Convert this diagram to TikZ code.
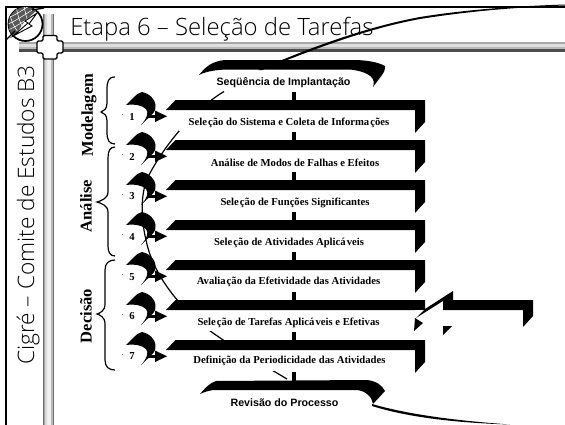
\documentclass[tikz,border=0pt]{standalone}
\usepackage{fontspec}
\setmainfont{Liberation Serif}
\newfontfamily\hsans{Liberation Sans}
\newfontfamily\lsans{Open Sans Light}
\begin{document}
\begin{tikzpicture}[x=0.75pt,y=-0.75pt,
  steptext/.style={font=\bfseries\fontsize{8}{9}\selectfont,inner sep=0pt,anchor=center},
  sanstext/.style={font=\hsans\bfseries\fontsize{8}{9}\selectfont,inner sep=0pt,anchor=center},
  numtext/.style={font=\bfseries\fontsize{8}{9}\selectfont,inner sep=0pt},
  grptext/.style={font=\bfseries\fontsize{12.4}{13}\selectfont,inner sep=0pt,rotate=90},
  titletext/.style={font=\lsans\fontsize{17.9}{20}\selectfont,inner sep=0pt,anchor=base west},
  sidetext/.style={font=\lsans\fontsize{17}{18}\selectfont,rotate=90,inner sep=0pt,anchor=base west},
  brace/.style={draw=black,line width=0.9pt,fill=none},
  longline/.style={draw=black,line width=0.9pt,fill=none}]
\useasboundingbox (0,0) rectangle (565,425);
\fill[white] (0,0) rectangle (565,425);
% frame
\draw[line width=1.5pt] (5.5,425) -- (5.5,6.5) -- (565,6.5);
% bars
\foreach \a/\b/\c in {0/1/gray!85!black,1/2/gray!70,2/4/gray!30,4/8/gray!12,8/10/gray!55,10/11/gray!85!black}{
  \fill[\c] (43+\a,14) rectangle (43+\b,425);
}
\foreach \a/\b/\c in {0/2/gray!70,2/5/gray!25,5/7/gray!55,7/10/black!70}{
  \fill[\c] (19,42+\a) rectangle (565,42+\b);
}
% logo
\node[circle,draw=black,line width=1.3pt,fill=white,minimum size=25.5pt,inner sep=0pt] (logo) at (25.5,24) {};
\begin{scope}
\clip (25.5,24) circle (17);
\fill[gray!70!black] (8,7) -- (40,7) -- (24,22) -- (12,40) -- (8,40) -- cycle;
\foreach \d in {-8,-2,4,10}{\draw[white,line width=0.4pt] (8,20+\d) .. controls (18,16+\d) and (28,8+\d) .. (36,4+\d);}
\foreach \d in {-4,4,12}{\draw[white,line width=0.4pt] (12+\d,6) .. controls (14+\d,16) and (16+\d,26) .. (24+\d,34);}
\end{scope}
\draw[line width=1pt] (32,10) -- (44,8);
\draw[line width=1pt] (6,40) -- (15,31);
\draw[fill=white,line width=0.7pt] (37,13) -- (25,21) -- (28,23) -- (13,36) -- (32,26) -- (29,24) -- cycle;
% plus
\node[inner sep=0pt,minimum size=0pt] (plus) at (50,47) {};
\draw[fill=white,line width=1.1pt,rounded corners=1pt] (43,35.5) -- (57,35.5) -- (57,41) -- (63,41) -- (63,53) -- (57,53) -- (57,59) -- (43,59) -- (43,53) -- (37,53) -- (37,41) -- (43,41) -- cycle;
% title and side text
\node[titletext] (title) at (70,35) {Etapa 6 – Seleção de Tarefas};
\node[sidetext] (side) at (34,365) {Cigré – Comite de Estudos B3};
% swoosh top
\fill (258,70) .. controls (300,52) and (360,28) .. (420,17) .. controls (470,9) and (520,6) .. (565,4.5) -- (565,5.5) .. controls (520,7) and (470,11) .. (420,19) .. controls (360,30) and (300,55) .. (262,70) -- cycle;
% long curve
\draw[longline] (224,91.5) .. controls (190,112) and (162,150) .. (149,175) .. controls (141,190) and (140,215) .. (146,240) .. controls (151,265) and (166,290) .. (191,315) .. controls (210,334) and (250,357) .. (287,379);
% bottom swoosh
\fill (372,404) .. controls (410,415) and (460,421) .. (510,424.5) .. controls (460,423) and (410,418) .. (372,406) -- cycle;
% connectors between bars
\foreach \y in {92,132,172,212,252,292,332,372}{\fill (292,\y) rectangle (295.5,\y+9);}
% white text boxes
\foreach \y in {100,140,180,220,260,300,340}{\fill[white] (179,\y+10) rectangle (415,\y+31);}
% top arc
\fill (199,75) .. controls (204,69) and (208,65) .. (213,63) .. controls (218,61) and (222,60) .. (227,60) -- (353,60) .. controls (366,60) and (378,62) .. (385,66) .. controls (385,70) and (384,73) .. (382,75) -- (373,87) .. controls (376,79) and (371,72) .. (350,69.5) -- (230,69.5) .. controls (218,69.5) and (207,71) .. cycle;
% bottom arc
\fill (200,394) .. controls (206,387) and (210,383) .. (216,381) -- (367,380) .. controls (376,381) and (382,385) .. (385,391) -- (373,404) .. controls (372,397) and (366,391) .. (357,390) -- (213,390) .. controls (208,391) and (204,392) .. cycle;
% bars
\foreach \y in {100,140,180,220,260,300,340}{
  \fill (175.5,\y) -- (425,\y) -- (425,\y+22) -- (415,\y+33) -- (415,\y+10) -- (166,\y+10) -- cycle;
}
% circular arrows
\foreach \y in {100,140,180,220,260,300,340}{
  \begin{scope}[shift={(0,\y)}]
  \fill (126,5) .. controls (132,0) and (136,-7) .. (142,-8) .. controls (149,-7) and (155,-1) .. (155.5,5) .. controls (155.5,9) and (155,12) .. (153,13.5) -- (141,25) .. controls (147,18) and (149,13) .. (146,9) .. controls (142,5) and (134,4) .. cycle;
  \fill (147,15) rectangle (156,17.5);
  \fill (155,10.5) -- (167,16.3) -- (155,22) -- cycle;
  \fill[gray] (121.5,14) rectangle (122.5,15);
  \end{scope}
}
% right branch
\fill[white] (415,310) rectangle (426,335);
\fill (443,300) -- (533,300) -- (533,316) -- (523,327) -- (523,310) -- (443,310) -- cycle;
\fill (416,318) -- (425,309) -- (453,291) -- (453,300) -- (443,301) -- cycle;
\fill (415,318) -- (423,323) -- (414,331) -- cycle;
\fill (443,326) -- (452,326) -- (443,335) -- cycle;
% numbers
\node[numtext] (n1) at (132,117) {1};
\node[numtext] (n2) at (132,157) {2};
\node[numtext] (n3) at (132,196) {3};
\node[numtext] (n4) at (132,237) {4};
\node[numtext] (n5) at (132,277) {5};
\node[numtext] (n6) at (132,316) {6};
\node[numtext] (n7) at (132,356) {7};
% step labels
\def\gp{\kern0.8pt}
\node[sanstext] (seq) at (283.5,83) {Seqüência de Implantação};
\node[steptext] (s1) at (289,123) {Sele\gp ção do Sistema e Coleta de Informa\gp ções};
\node[steptext] (s2) at (295,163) {Análise de Modos de Falhas e Efeitos};
\node[steptext] (s3) at (295,203) {Sele\gp ção de Funções Significantes};
\node[steptext] (s4) at (289,243) {Sele\gp ção de Atividades Aplicá\gp veis};
\node[steptext] (s5) at (288.5,282) {Avalia\gp ção da Efetividade das Atividades};
\node[steptext] (s6) at (288.5,323) {Sele\gp ção de Tarefas Aplicá\gp veis e Efetivas};
\node[steptext] (s7) at (289.5,361) {Definição da Periodicidade das Atividades};
\node[sanstext] (rev) at (284.5,402.5) {Revisão do Processo};
% group labels
\node[grptext] (g1) at (89,115) {Modelagem};
\node[grptext] (g2) at (86,206) {Análise};
\node[grptext] (g3) at (86,316) {Decisão};
% braces
\draw[brace] (115,77) .. controls (108,77) and (107,82) .. (107,90) -- (107,103) .. controls (107,109) and (104,111) .. (101,112) .. controls (104,113) and (107,115) .. (107,121) -- (107,132) .. controls (107,140) and (109,144) .. (115,144);
\draw[brace] (115,147) .. controls (110,147) and (108,151) .. (108,158) -- (108,192) .. controls (108,199) and (100,201) .. (97,202) .. controls (100,203) and (108,205) .. (108,212) -- (108,246) .. controls (108,252) and (110,256) .. (115,256);
\draw[brace] (115,260) .. controls (109,260) and (105,263) .. (105,270) -- (105,304) .. controls (105,311) and (100,313) .. (97,314) .. controls (100,315) and (105,317) .. (105,324) -- (105,360) .. controls (105,367) and (109,370) .. (115,370);
\end{tikzpicture}
\end{document}
